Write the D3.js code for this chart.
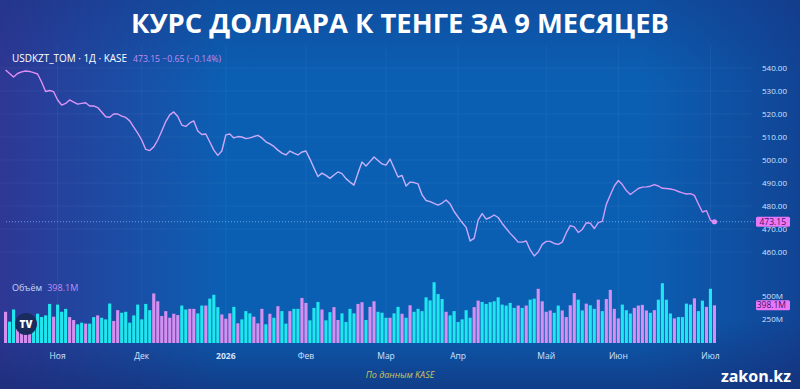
<!DOCTYPE html>
<html>
<head>
<meta charset="utf-8">
<script src="https://cdn.jsdelivr.net/npm/d3@7"></script>
<style>
  body { margin: 0; background: #0b5fb3; }
  svg { display: block; }
</style>
</head>
<body>
<div id="chart"></div>
<script>
// daily closes USDKZT_TOM, mid-Oct 2025 .. 1 Jul 2026
const priceValues = [
  539.1, 537.6, 536.1, 537.6, 538.3, 538.7, 538.5, 538.0, 537.4, 533.9,
  529.8, 530.2, 529.7, 526.1, 523.9, 524.6, 526.1, 525.2, 524.3, 524.6,
  524.9, 523.5, 523.5, 522.8, 520.9, 518.8, 518.6, 520.0, 520.0, 519.1,
  518.5, 517.0, 514.3, 511.7, 508.7, 504.6, 504.1, 505.7, 508.7, 512.6,
  516.7, 519.6, 520.9, 518.9, 515.2, 514.6, 516.1, 517.0, 512.6, 511.1,
  511.3, 507.8, 504.3, 502.0, 503.9, 510.9, 511.3, 509.6, 510.2, 510.0,
  509.3, 509.6, 510.2, 510.7, 509.6, 507.9, 507.0, 505.9, 504.3, 503.0,
  502.2, 503.9, 503.0, 502.2, 503.5, 503.9, 500.4, 496.5, 492.8, 494.3,
  493.3, 492.0, 493.5, 494.8, 494.1, 491.9, 490.4, 489.1, 494.3, 499.1,
  497.4, 499.3, 501.3, 499.8, 498.3, 497.8, 500.4, 496.5, 492.6, 493.3,
  488.7, 490.4, 490.2, 489.6, 484.8, 482.4, 481.9, 481.1, 480.4, 481.3,
  482.6, 480.9, 477.6, 475.2, 472.8, 470.7, 464.8, 465.9, 473.9, 476.7,
  474.3, 475.0, 476.1, 475.0, 472.4, 470.2, 468.1, 466.3, 464.3, 464.3,
  464.8, 460.9, 458.3, 460.0, 463.3, 464.6, 464.6, 463.7, 463.3, 464.3,
  468.3, 471.5, 470.9, 468.5, 469.8, 472.7, 472.5, 470.2, 472.8, 473.3,
  480.7, 484.8, 488.7, 491.1, 489.3, 486.7, 485.0, 486.3, 487.6, 488.2,
  488.3, 488.6, 489.3, 488.7, 487.7, 487.6, 487.4, 487.0, 486.3, 485.7,
  485.2, 485.4, 484.6, 480.9, 477.4, 478.0, 473.8, 473.15
];

// volume, millions
const volumeValues = [
  330, 226, 354, 250, 240, 210, 230, 215, 310, 275,
  292, 413, 278, 406, 330, 361, 274, 243, 198, 215,
  205, 205, 274, 292, 267, 250, 417, 233, 347, 320,
  330, 215, 292, 406, 250, 413, 347, 524, 441, 285,
  337, 267, 309, 295, 396, 354, 361, 361, 313, 396,
  396, 469, 510, 379, 302, 257, 313, 382, 208, 250,
  337, 313, 278, 208, 361, 198, 309, 267, 389, 337,
  205, 337, 361, 361, 476, 424, 240, 371, 434, 354,
  240, 326, 379, 243, 313, 222, 361, 313, 413, 431,
  243, 382, 441, 330, 320, 267, 267, 313, 382, 309,
  267, 399, 330, 361, 337, 483, 451, 642, 517, 465,
  330, 292, 337, 222, 250, 347, 267, 379, 448, 434,
  413, 431, 441, 483, 406, 396, 424, 371, 396, 371,
  396, 458, 469, 573, 441, 330, 344, 319, 396, 344,
  274, 399, 527, 458, 344, 416, 399, 361, 458, 337,
  465, 562, 361, 260, 406, 347, 312, 371, 396, 403,
  344, 319, 347, 458, 632, 458, 312, 260, 274, 274,
  416, 406, 472, 337, 448, 382, 573, 398.1
];

// c = cyan bar, p = pink bar
const volumeColor = (
  "pccppppccc" + "ccpcccppcc" + "pccpcccppc" + "cccccccppp" + "ppppccppcc" +
  "pcccpppcpc" + "ccpppcpcpc" + "cpccppcccp" + "ccppccccpp" + "cppcccpccp" +
  "cpcccccccc" + "pccccccppc" + "ccccccccpc" + "pccppppccp" + "pppccpccpc" +
  "ppppcccppp" + "pcpccccpcc" + "ccpccpcp"
).split("");

const monthLabels = ["Ноя", "Дек", "2026", "Фев", "Мар", "Апр", "Май", "Июн", "Июл"];
const monthIndex = [13, 34, 55, 75, 95, 113, 135, 153, 176];
const priceTicks = [460, 470, 480, 490, 500, 510, 520, 530, 540];
const volumeTicks = [250, 500];

const width = 800, height = 389;
const lastPrice = priceValues[priceValues.length - 1];
const lastVolume = volumeValues[volumeValues.length - 1];

const svg = d3.select('#chart')
    .append('svg')
    .attr('width', width)
    .attr('height', height)
    .style('font-family', '"Open Sans", Roboto, sans-serif');

const defs = svg.append('defs');

// background layers
const gH = defs.append('linearGradient').attr('id', 'bgH').attr('x1', 0).attr('x2', 1).attr('y1', 0).attr('y2', 0);
gH.append('stop').attr('offset', 0).attr('stop-color', '#3a2a8a').attr('stop-opacity', 0.75);
gH.append('stop').attr('offset', 0.28).attr('stop-color', '#3a2a8a').attr('stop-opacity', 0);
gH.append('stop').attr('offset', 0.8).attr('stop-color', '#1a2a78').attr('stop-opacity', 0);
gH.append('stop').attr('offset', 1).attr('stop-color', '#1a2270').attr('stop-opacity', 0.45);

const gV = defs.append('linearGradient').attr('id', 'bgV').attr('x1', 0).attr('x2', 0).attr('y1', 0).attr('y2', 1);
gV.append('stop').attr('offset', 0).attr('stop-color', '#16307e').attr('stop-opacity', 0.35);
gV.append('stop').attr('offset', 0.2).attr('stop-color', '#16307e').attr('stop-opacity', 0);
gV.append('stop').attr('offset', 0.82).attr('stop-color', '#15286e').attr('stop-opacity', 0);
gV.append('stop').attr('offset', 1).attr('stop-color', '#15286e').attr('stop-opacity', 0.6);

const gLine = defs.append('linearGradient').attr('id', 'lineGrad')
    .attr('gradientUnits', 'userSpaceOnUse').attr('x1', 0).attr('x2', 720).attr('y1', 0).attr('y2', 0);
gLine.append('stop').attr('offset', 0).attr('stop-color', '#e48af4');
gLine.append('stop').attr('offset', 0.45).attr('stop-color', '#c6b4ff');
gLine.append('stop').attr('offset', 0.7).attr('stop-color', '#c8a8ff');
gLine.append('stop').attr('offset', 1).attr('stop-color', '#d890f6');

svg.append('rect').attr('width', width).attr('height', height).attr('fill', '#0b5fb3');
svg.append('rect').attr('width', width).attr('height', height).attr('fill', 'url(#bgH)');
svg.append('rect').attr('width', width).attr('height', height).attr('fill', 'url(#bgV)');

// scales
const x = d3.scaleBand()
    .domain(d3.range(priceValues.length))
    .range([4, 716])
    .paddingInner(0.22);
const cx = i => x(i) + x.bandwidth() / 2;

const y = d3.scaleLinear().domain([460, 540]).range([252, 68]);
const yv = d3.scaleLinear().domain([0, 500]).range([343, 295.7]);

// grid
svg.append('g')
    .selectAll('line')
    .data(priceTicks)
    .join('line')
    .attr('x1', 0).attr('x2', 752)
    .attr('y1', d => y(d)).attr('y2', d => y(d))
    .attr('stroke', '#ffffff').attr('stroke-opacity', 0.05);

svg.append('g')
    .selectAll('line')
    .data(monthIndex)
    .join('line')
    .attr('x1', d => cx(d)).attr('x2', d => cx(d))
    .attr('y1', 45).attr('y2', 345)
    .attr('stroke', '#ffffff').attr('stroke-opacity', 0.05);

// title
svg.append('text')
    .attr('x', 400).attr('y', 33)
    .attr('text-anchor', 'middle')
    .attr('fill', '#ffffff')
    .style('font-size', '27px')
    .style('font-weight', 700)
    .attr('textLength', 538).attr('lengthAdjust', 'spacingAndGlyphs')
    .text('КУРС ДОЛЛАРА К ТЕНГЕ ЗА 9 МЕСЯЦЕВ');

// legend
svg.append('text')
    .attr('x', 12).attr('y', 62)
    .attr('fill', '#ffffff')
    .style('font-size', '10.5px')
    .attr('textLength', 115).attr('lengthAdjust', 'spacingAndGlyphs')
    .text('USDKZT_TOM · 1Д · KASE');
svg.append('text')
    .attr('x', 133).attr('y', 61.5)
    .attr('fill', '#c28cf2')
    .style('font-size', '8.5px')
    .attr('textLength', 88).attr('lengthAdjust', 'spacingAndGlyphs')
    .text(`${lastPrice.toFixed(2)}  −0.65 (−0.14%)`);

// last price dotted line
svg.append('line')
    .attr('x1', 6).attr('x2', 754)
    .attr('y1', y(lastPrice)).attr('y2', y(lastPrice))
    .attr('stroke', '#8fc4ff').attr('stroke-opacity', 0.7)
    .attr('stroke-width', 1)
    .attr('stroke-dasharray', '1,2');

// volume bars
svg.append('g')
    .selectAll('rect')
    .data(volumeValues)
    .join('rect')
    .attr('x', (d, i) => x(i))
    .attr('width', x.bandwidth())
    .attr('y', d => yv(d))
    .attr('height', d => yv(0) - yv(d))
    .attr('fill', (d, i) => volumeColor[i] === 'c' ? '#1fe6ef' : '#d68ef0');

// price line
const line = d3.line()
    .x((d, i) => cx(i))
    .y(d => y(d))
    .curve(d3.curveLinear);

svg.append('path')
    .datum(priceValues)
    .attr('d', line)
    .attr('fill', 'none')
    .attr('stroke', 'url(#lineGrad)')
    .attr('stroke-width', 1.4)
    .attr('stroke-linejoin', 'round');

svg.append('circle')
    .attr('cx', cx(priceValues.length - 1))
    .attr('cy', y(lastPrice))
    .attr('r', 2.6)
    .attr('fill', '#e08cf6');

// volume legend
const volLegend = svg.append('text')
    .attr('x', 12).attr('y', 290.5)
    .style('font-size', '9px');
volLegend.append('tspan').attr('fill', '#c9d8f5').text('Объём');
volLegend.append('tspan').attr('fill', '#c28cf2').attr('dx', 5).text(`${lastVolume}M`);

// TradingView logo
svg.append('circle').attr('cx', 26).attr('cy', 324).attr('r', 11).attr('fill', '#1a2c5e');
svg.append('text')
    .attr('x', 26).attr('y', 328)
    .attr('text-anchor', 'middle')
    .attr('fill', '#ffffff')
    .style('font-size', '10px')
    .style('font-weight', 800)
    .text('TV');

// price axis (470.00 is hidden behind the last-price badge, as in the source)
const yAxis = svg.append('g')
    .attr('transform', 'translate(756,0)')
    .call(d3.axisRight(y).tickValues(priceTicks).tickFormat(d3.format('.2f')).tickSize(0).tickPadding(6));
yAxis.select('.domain').remove();
yAxis.selectAll('text').attr('fill', '#d3e3ff').style('font-size', '8px').style('font-family', '"Open Sans", sans-serif');

// volume axis
const vAxis = svg.append('g')
    .attr('transform', 'translate(756,0)')
    .call(d3.axisRight(yv).tickValues(volumeTicks).tickFormat(d => d + 'M').tickSize(0).tickPadding(6));
vAxis.select('.domain').remove();
vAxis.selectAll('text').attr('fill', '#d3e3ff').style('font-size', '8px').style('font-family', '"Open Sans", sans-serif');

// last value badges
function badge(yPos, label) {
    svg.append('rect')
        .attr('x', 756).attr('y', yPos - 5)
        .attr('width', 34).attr('height', 10)
        .attr('rx', 1.5)
        .attr('fill', '#ea78f6');
    svg.append('text')
        .attr('x', 786).attr('y', yPos + 3)
        .attr('text-anchor', 'end')
        .attr('fill', '#4a0e6a')
        .style('font-size', '8.5px')
        .text(label);
}
badge(y(lastPrice), lastPrice.toFixed(2));
badge(yv(lastVolume), `${lastVolume}M`);

// time axis
const xAxis = svg.append('g')
    .attr('transform', 'translate(0,347)')
    .call(d3.axisBottom(x).tickValues(monthIndex).tickFormat((d, i) => monthLabels[i]).tickSize(0).tickPadding(6));
xAxis.select('.domain').remove();
xAxis.selectAll('text')
    .attr('fill', '#d3e3ff')
    .style('font-size', '8.5px')
    .style('font-family', '"Open Sans", sans-serif')
    .style('font-weight', (d, i) => monthLabels[i] === '2026' ? 700 : 400);

// source + brand
svg.append('text')
    .attr('x', 400).attr('y', 378)
    .attr('text-anchor', 'middle')
    .attr('fill', '#d2c25c')
    .style('font-size', '9px')
    .style('font-style', 'italic')
    .text('По данным KASE');

svg.append('text')
    .attr('x', 791).attr('y', 382)
    .attr('text-anchor', 'end')
    .attr('fill', '#ffffff')
    .style('font-size', '16px')
    .style('font-weight', 700)
    .style('font-family', '"Open Sans", sans-serif')
    .text('zakon.kz');
</script>
</body>
</html>
